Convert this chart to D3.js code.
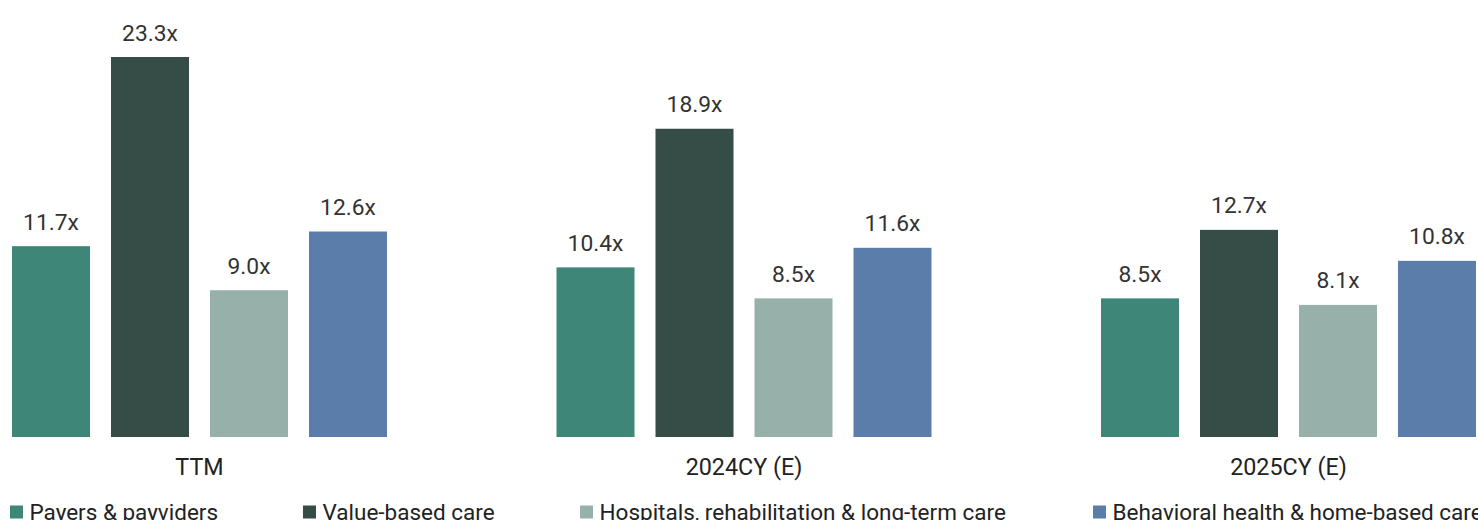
<!DOCTYPE html>
<html><head><meta charset="utf-8">
<script src="https://cdn.jsdelivr.net/npm/d3@7"></script>
<style>html,body{margin:0;padding:0;background:#fff;overflow:hidden}svg{display:block}</style>
</head><body>
<svg id="chart" width="1478" height="520"></svg>
<script>
const categories = ["TTM", "2024CY (E)", "2025CY (E)"];
const seriesNames = ["Payers & payviders", "Value-based care", "Hospitals, rehabilitation & long-term care", "Behavioral health & home-based care"];
const payers = [11.7, 10.4, 8.5];
const valueBased = [23.3, 18.9, 12.7];
const hospitals = [9.0, 8.5, 8.1];
const behavioral = [12.6, 11.6, 10.8];
const colors = ["#3E8677", "#364D47", "#98B0AA", "#5A7DAA"];

const seriesValues = [payers, valueBased, hospitals, behavioral];
const data = categories.map((c, i) => ({cat: c, vals: seriesNames.map((s, j) => ({s, j, v: seriesValues[j][i]}))}));

const svg = d3.select("#chart");
const font = "Roboto, 'Liberation Sans', sans-serif";

const x0 = d3.scaleBand().domain(categories).range([12, 1476]).paddingInner(0.3113).paddingOuter(0);
const x1 = d3.scaleBand().domain(seriesNames).range([0, x0.bandwidth()]).paddingInner(0.212).paddingOuter(0);
const y = d3.scaleLinear().domain([0, 23.3]).range([437, 57]);

const g = svg.append("g");
const groups = g.selectAll("g.grp").data(data).join("g").attr("class", "grp")
  .attr("transform", d => `translate(${x0(d.cat)},0)`);

groups.selectAll("rect").data(d => d.vals).join("rect")
  .attr("x", d => x1(d.s)).attr("width", x1.bandwidth())
  .attr("y", d => y(d.v)).attr("height", d => y(0) - y(d.v))
  .attr("fill", d => colors[d.j]);

groups.selectAll("text.val").data(d => d.vals).join("text").attr("class", "val")
  .attr("x", d => x1(d.s) + x1.bandwidth() / 2)
  .attr("y", d => y(d.v) - 16.5)
  .attr("text-anchor", "middle")
  .attr("font-family", font).attr("font-size", 22.8).attr("fill", "#333")
  .text(d => d.v.toFixed(1) + "x");

// category axis labels
const xAxis = d3.axisBottom(x0).tickSize(0).tickPadding(0);
const ax = svg.append("g").attr("transform", "translate(0,437)").call(xAxis);
ax.select(".domain").remove();
ax.selectAll("text").attr("font-family", font).attr("font-size", 23.3).attr("fill", "#222")
  .attr("dy", null).attr("y", 38);

// legend
const legendX = [10, 303, 580, 1093];
const leg = svg.append("g").selectAll("g").data(seriesNames).join("g")
  .attr("transform", (d, i) => `translate(${legendX[i]},0)`);
leg.append("rect").attr("x", 0).attr("y", 505.5).attr("width", 13).attr("height", 13)
  .attr("fill", (d, i) => colors[i]);
leg.append("text").attr("x", 19.5).attr("y", 519.5)
  .attr("font-family", font).attr("font-size", 22.5).attr("fill", "#222").text(d => d);
</script>
</body></html>
